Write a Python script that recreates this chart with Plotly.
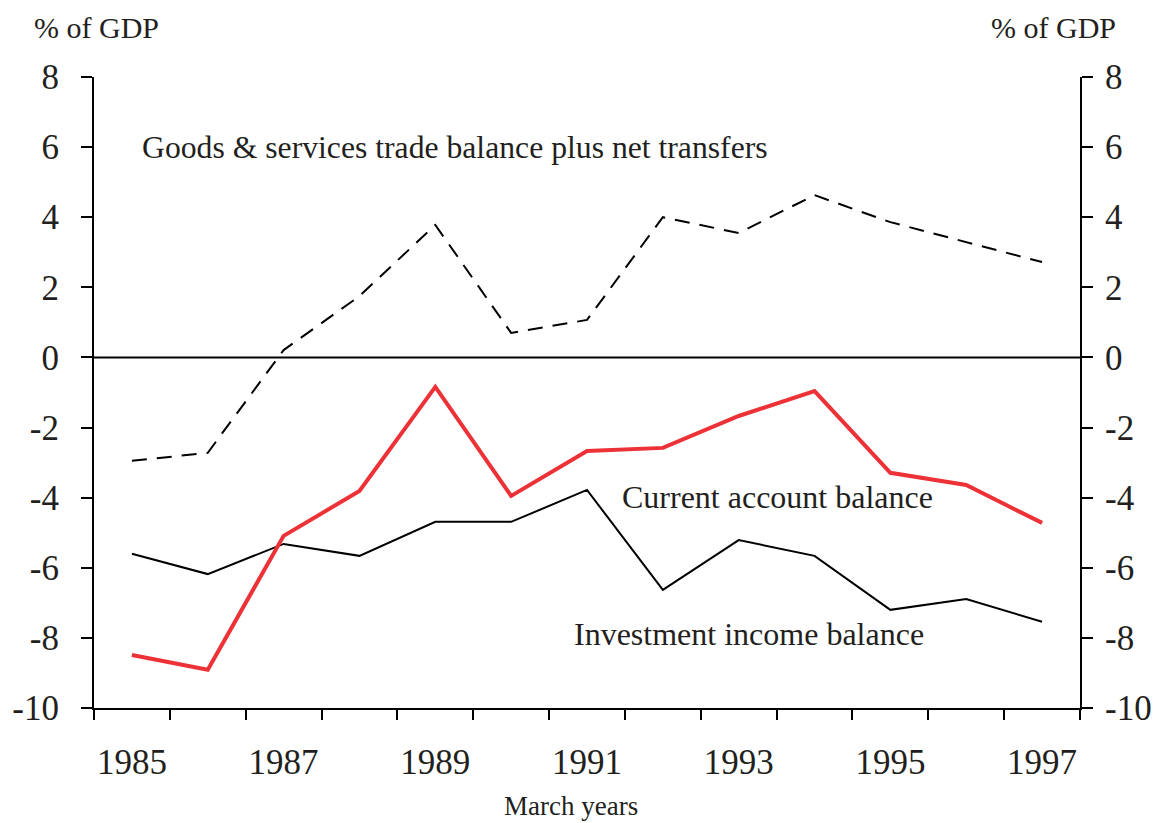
import plotly.graph_objects as go

years = list(range(1985, 1998))
goods_services = [-2.95, -2.72, 0.21, 1.75, 3.78, 0.70, 1.07, 4.00, 3.55, 4.63, 3.86, 3.29, 2.72]
current_account = [-8.49, -8.91, -5.09, -3.81, -0.84, -3.95, -2.67, -2.58, -1.67, -0.96, -3.29, -3.64, -4.72]
investment_income = [-5.60, -6.18, -5.32, -5.66, -4.69, -4.69, -3.78, -6.63, -5.21, -5.66, -7.20, -6.89, -7.54]

x_tick_labels = [1985, 1987, 1989, 1991, 1993, 1995, 1997]
y_ticks = [8, 6, 4, 2, 0, -2, -4, -6, -8, -10]
year_bounds = [y - 0.5 for y in years] + [years[-1] + 0.5]

FONT = "Liberation Serif, Times New Roman, serif"
RED = "#ED3237"
TXT = "#231F20"

fig = go.Figure()
fig.add_trace(go.Scatter(x=years, y=goods_services, mode="lines",
                         line=dict(color="black", width=2, dash="15px,10px"),
                         showlegend=False))
fig.add_trace(go.Scatter(x=years, y=investment_income, mode="lines",
                         line=dict(color="black", width=2), showlegend=False))
fig.add_trace(go.Scatter(x=years, y=current_account, mode="lines",
                         line=dict(color=RED, width=4), showlegend=False))
fig.add_trace(go.Scatter(x=years, y=current_account, yaxis="y2", mode="lines",
                         line=dict(color="rgba(0,0,0,0)", width=0), showlegend=False,
                         hoverinfo="skip"))

fig.add_hline(y=0, line=dict(color="black", width=2))

yaxis_common = dict(range=[-10, 8], tickvals=y_ticks, ticktext=[str(v) for v in y_ticks],
                    showgrid=False, zeroline=False, showline=True, linecolor="black",
                    linewidth=2, ticks="outside", ticklen=11, tickwidth=2,
                    tickcolor="black", automargin=False,
                    tickfont=dict(family=FONT, size=35, color=TXT))

# page body has an 8px margin, so the figure is 8px smaller than the window
fig.update_layout(
    width=1152, height=815,
    margin=dict(l=86, r=80, t=69, b=115),
    plot_bgcolor="white", paper_bgcolor="white",
    font=dict(family=FONT, color=TXT),
    xaxis=dict(range=[1984.5, 1997.5], tickvals=x_tick_labels,
               ticktext=[str(v) for v in x_tick_labels], ticks="", ticklen=0,
               showgrid=False, zeroline=False, showline=True, linecolor="black",
               linewidth=2, tickfont=dict(family=FONT, size=35, color=TXT),
               ticklabelstandoff=22, automargin=False,
               minor=dict(tickvals=year_bounds, ticks="outside", ticklen=10,
                          tickwidth=2, tickcolor="black", showgrid=False)),
    yaxis=dict(side="left", ticklabelstandoff=15, **yaxis_common),
    yaxis2=dict(side="right", overlaying="y", ticklabelstandoff=5, **yaxis_common),
)

fig.add_annotation(x=0.4838, y=0, xref="paper", yref="paper", yshift=-98,
                   text="March years", showarrow=False, xanchor="center", yanchor="middle",
                   font=dict(family=FONT, size=27, color=TXT))

fig.add_annotation(x=0, y=1, xref="paper", yref="paper", xshift=-62, yshift=50,
                   text="% of GDP", showarrow=False, xanchor="left", yanchor="middle",
                   font=dict(family=FONT, size=30, color=TXT))
fig.add_annotation(x=1, y=1, xref="paper", yref="paper", xshift=38, yshift=50,
                   text="% of GDP", showarrow=False, xanchor="right", yanchor="middle",
                   font=dict(family=FONT, size=30, color=TXT))

fig.add_annotation(x=1985.11, y=6, text="Goods &amp; services trade balance plus net transfers",
                   showarrow=False, xanchor="left", yanchor="middle",
                   font=dict(family=FONT, size=31.7, color=TXT))
fig.add_annotation(x=1991.43, y=-3.98, text="Current account balance",
                   showarrow=False, xanchor="left", yanchor="middle",
                   font=dict(family=FONT, size=32, color=TXT))
fig.add_annotation(x=1990.80, y=-7.89, text="Investment income balance",
                   showarrow=False, xanchor="left", yanchor="middle",
                   font=dict(family=FONT, size=32, color=TXT))

fig.write_html("out.html")
